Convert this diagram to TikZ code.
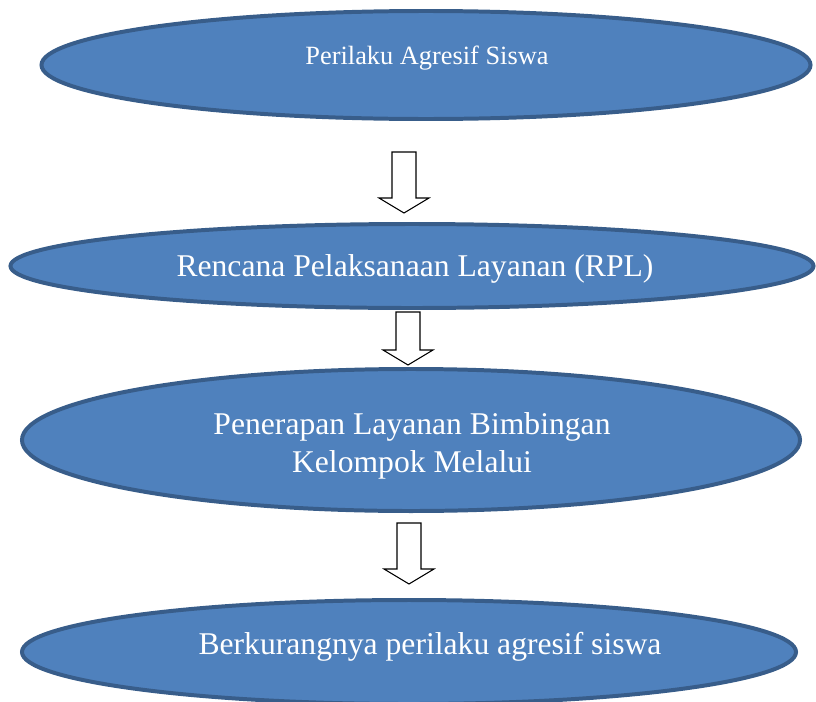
\documentclass[tikz,border=0pt]{standalone}
\usepackage{fontspec}
\setmainfont{Liberation Serif}
\usetikzlibrary{shapes.geometric,calc}

\definecolor{isibiru}{HTML}{4F81BD}
\definecolor{garisbiru}{HTML}{385D8A}

% panah blok berongga dari #1 ke #2
\newcommand{\panahblok}[2]{%
  \draw[panah] ($(#1)+(-12,0)$) -- ($(#2)+(-12,-15)$) -- ($(#2)+(-25,-15)$)
    -- (#2) -- ($(#2)+(25,-15)$) -- ($(#2)+(12,-15)$) -- ($(#1)+(12,0)$) -- cycle;}

\begin{document}
\begin{tikzpicture}[
    x=0.03cm, y=-0.03cm,
    elips/.style={draw=garisbiru, fill=isibiru, line width=3.4pt, ellipse, inner sep=0pt},
    teks/.style={text=white, align=center, font=\fontsize{27}{33}\selectfont},
    panah/.style={draw=black, fill=white, line width=0.9pt, line join=miter}
]
\useasboundingbox (0,0) rectangle (816,701);

% Elips
\node[elips, minimum width=23.07cm, minimum height=3.24cm] (perilaku) at (426,65) {};
\node[elips, minimum width=24.09cm, minimum height=2.52cm] (rpl) at (412,266) {};
\node[elips, minimum width=23.34cm, minimum height=4.26cm] (penerapan) at (411,440) {};
\node[elips, minimum width=23.22cm, minimum height=3.12cm] (hasil) at (409,652) {};

% Teks
\node[teks, font=\fontsize{22.5}{27}\selectfont] (perilakuteks) at (427,58) {Perilaku Agresif Siswa};
\node[teks] (rplteks) at (415,269) {Rencana Pelaksanaan Layanan (RPL)};
\node[teks] (penerapanteks) at (412,446) {Penerapan Layanan Bimbingan\\Kelompok Melalui};
\node[teks] (hasilteks) at (430,647) {Berkurangnya perilaku agresif siswa};

% Ujung panah
\coordinate (a1) at (404,152);
\coordinate (b1) at (404,213);
\coordinate (a2) at (408,312);
\coordinate (b2) at (408,365);
\coordinate (a3) at (409,523);
\coordinate (b3) at (409,584);

% Panah
\panahblok{a1}{b1}
\panahblok{a2}{b2}
\panahblok{a3}{b3}

\end{tikzpicture}
\end{document}
